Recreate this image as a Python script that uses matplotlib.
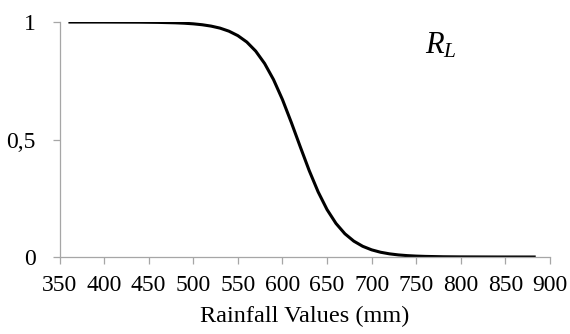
import matplotlib
matplotlib.use("Agg")
import matplotlib.pyplot as plt

plt.rcParams['font.family'] = ['Liberation Serif', 'DejaVu Serif']
plt.rcParams['mathtext.fontset'] = 'custom'
plt.rcParams['mathtext.rm'] = 'Liberation Serif'
plt.rcParams['mathtext.it'] = 'Liberation Serif:italic'

# Data
rainfall = [360, 400, 440, 460, 480, 490, 500, 510, 520, 530, 540, 550, 560, 570,
            580, 590, 600, 610, 620, 630, 640, 650, 660, 670, 680, 690, 700, 710,
            720, 730, 740, 750, 760, 780, 800, 840, 884]
r_l = [1.000, 0.9999, 0.9994, 0.9986, 0.9967, 0.9950, 0.9924, 0.9885, 0.9827,
       0.9741, 0.9611, 0.9421, 0.9150, 0.8763, 0.8235, 0.7549, 0.6700, 0.5720,
       0.4688, 0.3678, 0.2773, 0.2018, 0.1430, 0.0990, 0.0676, 0.0456, 0.0305,
       0.0203, 0.0135, 0.0089, 0.0059, 0.0039, 0.0026, 0.0011, 0.0005, 0.0001,
       0.0000]
x_ticks = [350, 400, 450, 500, 550, 600, 650, 700, 750, 800, 850, 900]
y_ticks = [0, 0.5, 1]
y_tick_labels = ['0', '0,5', '1']

fig = plt.figure(figsize=(5.7, 3.34), dpi=100)
ax = fig.add_axes([0.1044, 0.2305, 0.8605, 0.7035])

ax.plot(rainfall, r_l, color='black', lw=2.2, solid_capstyle='butt',
        solid_joinstyle='round')

ax.set_xlim(350, 900)
ax.set_ylim(0, 1)
ax.set_xticks(x_ticks)
ax.set_yticks(y_ticks)
ax.set_yticklabels(y_tick_labels)

for s in ['top', 'right']:
    ax.spines[s].set_visible(False)
for s in ['left', 'bottom']:
    ax.spines[s].set_color('#a6a6a6')
    ax.spines[s].set_linewidth(0.9)

ax.tick_params(axis='x', direction='out', length=5, width=0.9, color='#a6a6a6',
               labelsize=17, pad=8)
ax.tick_params(axis='y', direction='out', length=5, width=0.9, color='#a6a6a6',
               labelsize=17, pad=12)

ax.set_xlabel('Rainfall Values (mm)', fontsize=17.5, labelpad=7)
ax.text(0.745, 0.868, r'$R_L$', transform=ax.transAxes, fontsize=22,
        va='baseline', ha='left')

fig.savefig('out.png', dpi=100)
